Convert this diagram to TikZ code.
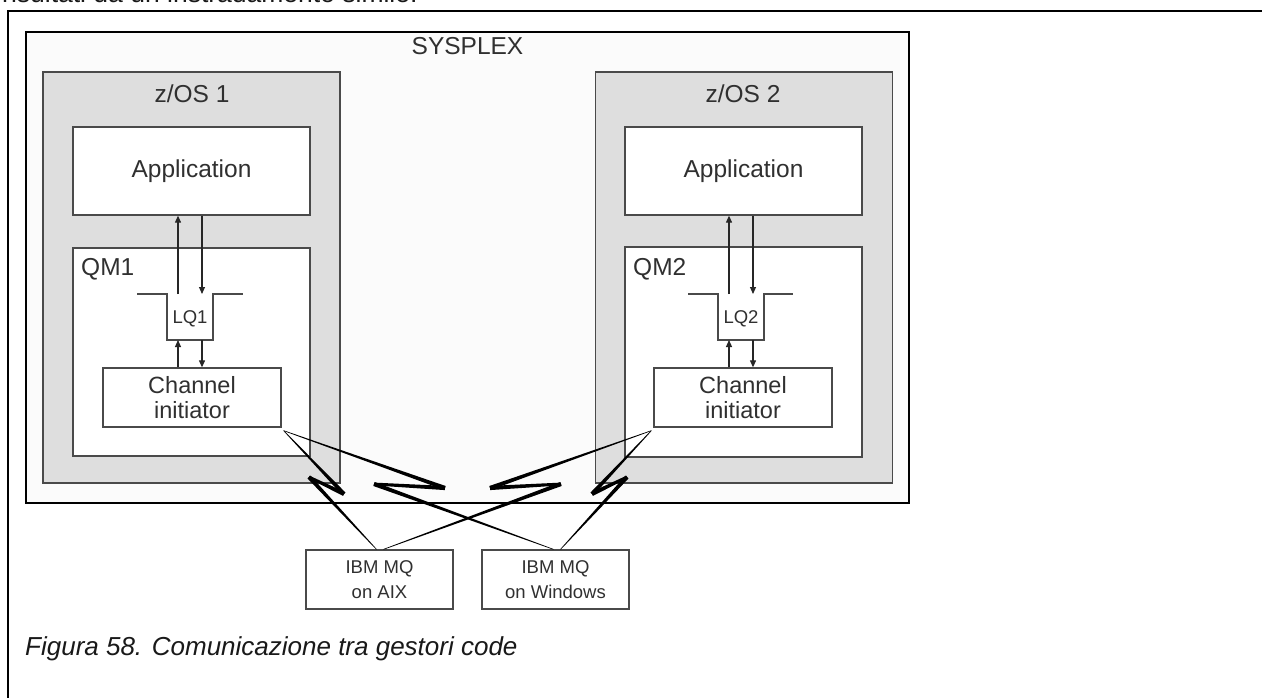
\documentclass[tikz,border=0pt]{standalone}
\usepackage{fontspec}
\setmainfont{Liberation Sans}
\usetikzlibrary{calc,arrows.meta}
\definecolor{txt}{HTML}{303030}
\definecolor{zosfill}{HTML}{DEDEDE}
\definecolor{sysfill}{HTML}{FBFBFB}
\definecolor{edge}{HTML}{4A4A4A}
\newcommand\boltseg[4]{\fill[black] ($(#1)!#3!90:(#2)$) -- ($(#1)!#3!-90:(#2)$) -- ($(#2)!#4!90:(#1)$) -- ($(#2)!#4!-90:(#1)$) -- cycle;}
\begin{document}
\begin{tikzpicture}[x=1pt,y=-1pt,
  box/.style={draw=edge, line width=1.3pt, fill=white, inner sep=0pt, text=txt, align=center},
  zos/.style={draw=edge, line width=1.3pt, fill=zosfill, inner sep=0pt, minimum width=297, minimum height=411},
  big/.style={font=\fontsize{24.5}{26}\selectfont, text=txt, inner sep=0pt},
  mid/.style={font=\fontsize{23.5}{25}\selectfont},
  small/.style={font=\fontsize{18.5}{25}\selectfont},
  queue/.style={draw=edge, line width=1.3pt},
  arr/.style={draw=black!85, line width=1.1pt, -{Triangle[length=7pt,width=6pt]}}
]
\useasboundingbox (0,0) rectangle (1262,698);
\fill[white] (0,0) rectangle (1262,698);
\begin{scope}
\clip (0,0) rectangle (1262,698);
\node[anchor=base west, inner sep=0pt, text=black!90, font=\fontsize{26.5}{30}\selectfont] (toptext) at (2,3) {risultati da un instradamento simile.};
\draw[line width=2.5pt, black] (8,700) -- (8,11) -- (1270,11);
\end{scope}

% sysplex
\node[draw=black, line width=1.5pt, fill=sysfill, inner sep=0pt, minimum width=883, minimum height=471] (sysplex) at (467.5,267.5) {};
\node[big, anchor=base] (syslbl) at (467.5,55) {SYSPLEX};

% z/OS boxes
\node[zos] (zos1) at (191.5,277.5) {};
\node[zos] (zos2) at (744,277.5) {};
\node[big, anchor=base] (zos1lbl) at (192,103) {z/OS 1};
\node[big, anchor=base] (zos2lbl) at (743,103) {z/OS 2};

% applications
\node[box, big, minimum width=237, minimum height=88] (app1) at (191.5,171) {Application};
\node[box, big, minimum width=237, minimum height=88] (app2) at (743.5,171) {Application};

% queue managers
\node[box, minimum width=237, minimum height=208] (qm1) at (191.5,352) {};
\node[box, minimum width=237, minimum height=210] (qm2) at (743.5,352) {};
\node[big, anchor=base west] (qm1lbl) at (81,275) {QM1};
\node[big, anchor=base west] (qm2lbl) at (633,275) {QM2};

% channel initiators
\node[box, mid, minimum width=178, minimum height=59] (ci1) at (192,397.5) {Channel\\initiator};
\node[box, mid, minimum width=178, minimum height=59] (ci2) at (743,397.5) {Channel\\initiator};

% local queues
\draw[queue] (137,294) -- (167,294) -- (167,340) -- (213,340) -- (213,294) -- (243,294);
\draw[queue] (688,294) -- (718,294) -- (718,340) -- (764,340) -- (764,294) -- (793,294);
\node[small, text=txt, inner sep=0pt, anchor=base] (lq1) at (190,323) {LQ1};
\node[small, text=txt, inner sep=0pt, anchor=base] (lq2) at (741,323) {LQ2};

% arrows left
\coordinate (q1u) at (178,294);
\coordinate (q1d) at (202,294);
\coordinate (q1ub) at (178,340);
\coordinate (q1db) at (202,340);
\draw[arr] (q1u) -- (q1u |- app1.south);
\draw[arr] (q1d |- app1.south) -- (q1d);
\draw[arr] (q1ub |- ci1.north) -- (q1ub);
\draw[arr] (q1db) -- (q1db |- ci1.north);
% arrows right
\coordinate (q2u) at (729,294);
\coordinate (q2d) at (753,294);
\coordinate (q2ub) at (729,340);
\coordinate (q2db) at (753,340);
\draw[arr] (q2u) -- (q2u |- app2.south);
\draw[arr] (q2d |- app2.south) -- (q2d);
\draw[arr] (q2ub |- ci2.north) -- (q2ub);
\draw[arr] (q2db) -- (q2db |- ci2.north);

% remote queue managers
\node[box, small, minimum width=147, minimum height=59] (aix) at (379.5,579.5) {IBM MQ\\on AIX};
\node[box, small, minimum width=147, minimum height=59] (win) at (555.5,579.5) {IBM MQ\\on Windows};

% lightning connections
\coordinate (s1) at ($(ci1.south east)+(2,3)$);
\coordinate (s2) at ($(ci2.south west)+(-2,3)$);
\coordinate (b1t) at (344,494);
\coordinate (b1j) at (309,477);
\coordinate (e1) at ($(aix.north)+(-3,0)$);
\coordinate (b2t) at (445,488);
\coordinate (b2j) at (374,484);
\coordinate (e2) at ($(win.north)+(-2,0)$);
\coordinate (b3t) at (490,488);
\coordinate (b3j) at (561,484);
\coordinate (e3) at ($(aix.north)+(4,0)$);
\coordinate (b4t) at (592,494);
\coordinate (b4j) at (627,477);
\coordinate (e4) at ($(win.north)+(5,0)$);

\boltseg{s1}{b1t}{0.3pt}{2.1pt}
\boltseg{b1t}{b1j}{2.1pt}{1.4pt}
\boltseg{b1j}{e1}{2.1pt}{0.3pt}

\boltseg{s1}{b2t}{0.3pt}{2.1pt}
\boltseg{b2t}{b2j}{2.1pt}{1.4pt}
\boltseg{b2j}{e2}{2.1pt}{0.3pt}

\boltseg{s2}{b3t}{0.3pt}{2.1pt}
\boltseg{b3t}{b3j}{2.1pt}{1.4pt}
\boltseg{b3j}{e3}{2.1pt}{0.3pt}

\boltseg{s2}{b4t}{0.3pt}{2.1pt}
\boltseg{b4t}{b4j}{2.1pt}{1.4pt}
\boltseg{b4j}{e4}{2.1pt}{0.3pt}

% caption
\node[anchor=base west, inner sep=0pt, text=black!90, font=\fontsize{26}{30}\selectfont\itshape] (caption) at (25,655) {Figura 58. Comunicazione tra gestori code};
\end{tikzpicture}
\end{document}
